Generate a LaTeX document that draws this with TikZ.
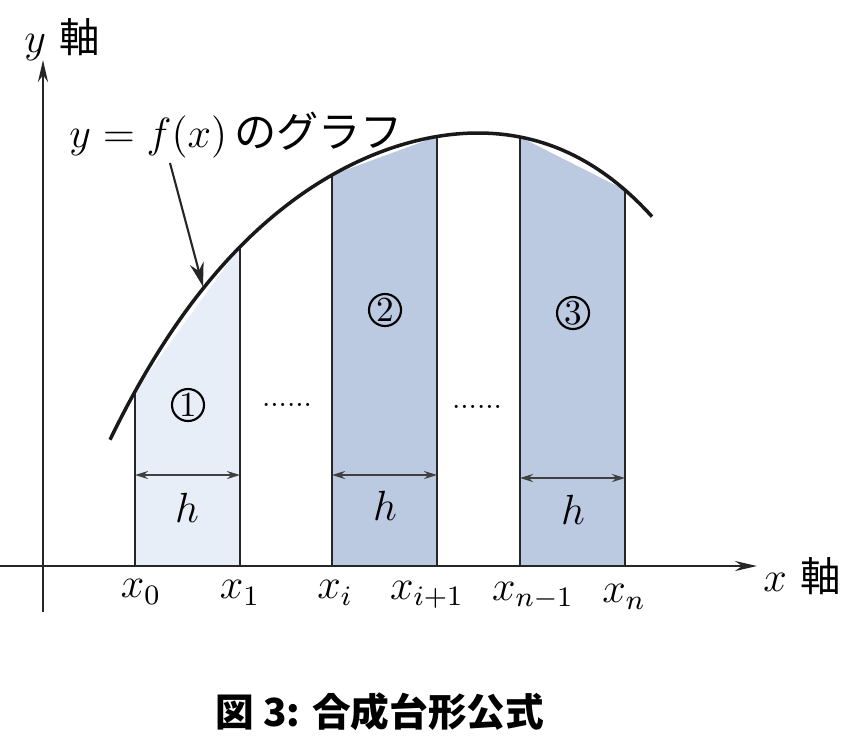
\documentclass[tikz,border=0pt]{standalone}
\usepackage{fontspec}
\newfontfamily\cjk{Noto Sans CJK JP}
\usetikzlibrary{arrows.meta}
\definecolor{lightstrip}{RGB}{232,238,247}
\definecolor{darkstrip}{RGB}{187,201,225}
\begin{document}
\begin{tikzpicture}[x=0.01cm, y=-0.01cm,
	declare function={fcurve(\t)=133+(21.53+(2.272+0.7*(\t-478)/100)*(\t-478)/100)*((\t-478)/100)*((\t-478)/100);},
	lbl/.style={font=\fontsize{11.5}{12}\selectfont},
	edge/.style={line width=0.6pt, black!85},
	axis/.style={line width=0.8pt, black!85, -{Stealth[length=2.2mm,width=1mm]}},
	harrow/.style={line width=0.5pt, black!75, {Stealth[length=1.3mm,width=0.8mm]}-{Stealth[length=1.3mm,width=0.8mm]}},
	num/.style={circle, draw, line width=0.6pt, inner sep=0pt, minimum size=0.32cm, font=\fontsize{10}{10}\selectfont}]
	\useasboundingbox (0,0) rectangle (868,742);

	\coordinate (b0) at (135,566);
	\coordinate (b1) at (240,566);
	\coordinate (bi) at (332,566);
	\coordinate (bj) at (437,566);
	\coordinate (bm) at (520,566);
	\coordinate (bn) at (625,566);

	\coordinate (t0) at (135,{fcurve(135)});
	\coordinate (t1) at (240,{fcurve(240)});
	\coordinate (ti) at (332,{fcurve(332)});
	\coordinate (tj) at (437,{fcurve(437)});
	\coordinate (tm) at (520,{fcurve(520)});
	\coordinate (tn) at (625,{fcurve(625)});

	\fill [lightstrip] (b0) -- (t0) -- (t1) -- (b1) -- cycle;
	\fill [darkstrip] (bi) -- (ti) -- (tj) -- (bj) -- cycle;
	\fill [darkstrip] (bm) -- (tm) -- (tn) -- (bn) -- cycle;

	\draw [edge] (b0) -- (t0);
	\draw [edge] (b1) -- (t1);
	\draw [edge] (bi) -- (ti);
	\draw [edge] (bj) -- (tj);
	\draw [edge] (bm) -- (tm);
	\draw [edge] (bn) -- (tn);

	\draw [line width=1pt, black!90] plot [domain=110:652, samples=90, smooth] (\x,{fcurve(\x)});

	\coordinate (yb) at (43,612);
	\coordinate (yt) at (43,60);
	\coordinate (xb) at (0,566);
	\coordinate (xt) at (757,566);
	\draw [axis] (yb) -- (yt);
	\draw [axis] (xb) -- (xt);

	\node [lbl] (ylab) at (62,40) {$y$ {\cjk 軸}};
	\node [lbl] (xlab) at (802,576) {$x$ {\cjk 軸}};

	\coordinate (h0l) at (135,475);
	\coordinate (h0r) at (240,475);
	\coordinate (h1l) at (332,475);
	\coordinate (h1r) at (437,475);
	\coordinate (h2l) at (520,478);
	\coordinate (h2r) at (625,478);
	\draw [harrow] (h0l) -- (h0r);
	\draw [harrow] (h1l) -- (h1r);
	\draw [harrow] (h2l) -- (h2r);

	\node [lbl] (h0) at (187,508) {$h$};
	\node [lbl] (h1) at (385,506) {$h$};
	\node [lbl] (h2) at (573,510) {$h$};

	\node [num] (n1) at (188,405) {1};
	\node [num] (n2) at (385,310) {2};
	\node [num] (n3) at (573,313) {3};

	\node [font=\fontsize{8}{8}\selectfont] (d1) at (287,405) {......};
	\node [font=\fontsize{8}{8}\selectfont] (d2) at (477,407) {......};

	\node [lbl] (x0) at (141,592) {$x_0$};
	\node [lbl] (x1) at (240,593) {$x_1$};
	\node [lbl] (xi) at (335,593) {$x_i$};
	\node [lbl] (xj) at (427,595) {$x_{i+1}$};
	\node [lbl] (xm) at (533,596) {$x_{n-1}$};
	\node [lbl] (xn) at (624,597) {$x_n$};

	\node [anchor=west, font=\fontsize{12}{13}\selectfont] (glabel) at (57,135) {$y=f(x)\,${\cjk のグラフ}};
	\coordinate (gtail) at (170,163);
	\coordinate (gtip) at (203,{fcurve(203)-2});
	\draw [line width=0.6pt, black!85, -{Stealth[length=2.4mm,width=1.4mm]}] (gtail) -- (gtip);

	\node [font=\fontsize{11}{12}\selectfont\cjk\bfseries] (cap) at (380,712) {図 3: 合成台形公式};
\end{tikzpicture}
\end{document}
